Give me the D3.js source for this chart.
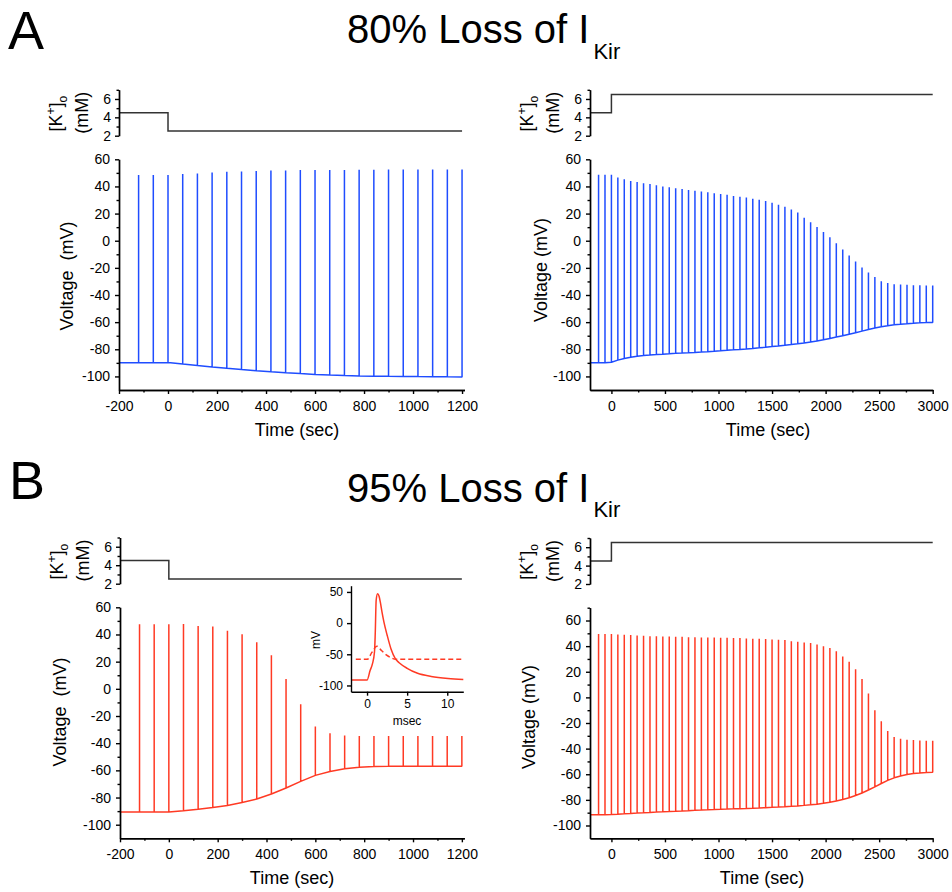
<!DOCTYPE html>
<html>
<head>
<meta charset="utf-8">
<script src="https://cdn.jsdelivr.net/npm/d3@7"></script>
<style>
  body { margin: 0; background: #fff; }
  svg { display: block; }
  text { font-family: "Liberation Sans", Arial, Helvetica, sans-serif; fill: #000; }
</style>
</head>
<body>
<svg id="fig" width="952" height="892"></svg>
<script>
// ---------- data ----------
// spike times (s) for the 1200 s and 3000 s protocols
const leftTimes = [-120, -60, 0, 60, 120, 180, 240, 300, 360, 420, 480, 540, 600,
  660, 720, 780, 840, 900, 960, 1020, 1080, 1140, 1200];
const rightTimes = [-120, -60, 0, 60, 120, 180, 240, 300, 360, 420, 480, 540, 600,
  660, 720, 780, 840, 900, 960, 1020, 1080, 1140, 1200, 1260, 1320, 1380, 1440,
  1500, 1560, 1620, 1680, 1740, 1800, 1860, 1920, 1980, 2040, 2100, 2160, 2220,
  2280, 2340, 2400, 2460, 2520, 2580, 2640, 2700, 2760, 2820, 2880, 2940, 3000];
const traceStart = -200;

// extracellular K+ protocol (mM)
const kTimesLeft = [-200, 0, 1200];
const kLevelsLeft = [4.5, 2.5, 2.5];
const kTimesRight = [-200, 0, 3000];
const kLevelsRight = [4.5, 6.5, 6.5];

// 80% loss of IKir, low K+ : spike peaks and resting potential (mV)
const peaksA1 = [48.4, 48.4, 48.4, 49.1, 49.6, 50.3, 50.8, 51.0, 51.3, 51.8, 51.8,
  52.1, 52.1, 52.2, 52.2, 52.3, 52.3, 52.4, 52.4, 52.4, 52.4, 52.4, 52.4];
const restA1 = [-90.0, -90.0, -89.8, -90.9, -92.0, -93.0, -94.0, -94.9, -95.8, -96.6,
  -97.3, -97.9, -98.5, -98.9, -99.3, -99.6, -99.8, -99.9, -100.0, -100.1, -100.2,
  -100.3, -100.4];

// 80% loss of IKir, high K+
const peaksA2 = [48.7, 48.7, 48.7, 46.5, 45.3, 44.0, 43.3, 42.3, 41.8, 40.8, 39.9,
  39.4, 38.6, 38.1, 37.4, 36.9, 36.2, 35.7, 35.0, 34.5, 33.8, 33.0, 32.4, 31.8,
  31.0, 30.2, 29.2, 28.0, 26.6, 25.0, 23.0, 20.8, 17.0, 13.6, 10.2, 6.5, 2.6, -1.8,
  -6.4, -10.8, -15.3, -19.7, -23.4, -26.8, -29.8, -31.2, -32.0, -32.3, -32.5, -32.8,
  -32.8, -33.0, -33.0];
const restA2 = [-90.0, -90.0, -89.6, -88.0, -86.8, -85.9, -85.2, -84.6, -84.2, -83.9,
  -83.6, -83.3, -83.0, -82.8, -82.5, -82.3, -82.0, -81.8, -81.4, -81.0, -80.7, -80.4,
  -80.1, -79.8, -79.4, -78.9, -78.5, -78.0, -77.6, -77.1, -76.5, -76.0, -75.4, -74.7,
  -73.9, -73.0, -72.0, -71.0, -70.0, -68.9, -67.8, -66.6, -65.4, -64.3, -63.4, -62.6,
  -62.0, -61.5, -61.1, -60.8, -60.5, -60.3, -60.2];

// 95% loss of IKir, low K+
const peaksB1 = [47.5, 47.5, 47.5, 47.7, 46.3, 45.8, 42.8, 40.1, 34.3, 24.7, 7.3,
  -11.3, -27.7, -32.6, -34.3, -34.8, -34.8, -34.8, -34.8, -34.8, -34.8, -34.8, -34.8];
const restB1 = [-90.7, -90.7, -90.7, -89.7, -88.7, -87.3, -85.8, -83.6, -81.1, -77.4,
  -73.0, -68.1, -63.7, -60.8, -58.8, -57.8, -57.1, -56.9, -56.9, -56.9, -56.9, -56.9,
  -56.9];

// 95% loss of IKir, high K+
const peaksB2 = [49.4, 49.4, 49.4, 49.1, 48.9, 48.6, 48.3, 48.1, 47.8, 47.8, 47.6,
  47.6, 47.3, 47.3, 47.0, 47.0, 46.8, 46.8, 46.8, 46.5, 46.5, 46.3, 46.3, 46.0, 45.7,
  45.7, 45.5, 45.2, 45.0, 44.7, 43.9, 43.4, 42.9, 42.4, 41.3, 40.0, 38.5, 36.1, 32.0,
  27.8, 21.9, 14.4, 3.0, -10.0, -18.6, -26.3, -31.0, -32.3, -33.1, -33.3, -33.6,
  -33.9, -33.9];
const restB2 = [-91.7, -91.7, -91.5, -91.2, -90.9, -90.6, -90.3, -90.0, -89.8, -89.5,
  -89.2, -89.0, -88.8, -88.6, -88.4, -88.2, -88.0, -87.8, -87.6, -87.4, -87.2, -87.0,
  -86.9, -86.7, -86.5, -86.3, -86.1, -85.8, -85.6, -85.3, -85.0, -84.7, -84.3, -83.9,
  -83.4, -82.7, -81.9, -80.9, -79.7, -78.3, -76.6, -74.6, -72.3, -69.8, -67.2, -64.8,
  -62.8, -61.3, -60.2, -59.5, -59.0, -58.7, -58.5];

// single action potential (inset), ms vs mV
const apSolidT = [-2, 0, 0.38, 0.67, 0.93, 1.02, 1.14, 1.31, 1.5, 1.65, 1.86, 2.1,
  2.5, 3.0, 3.54, 4.0, 5.0, 6.3, 8.0, 10.1, 12];
const apSolidV = [-91.4, -91.4, -76, -65.5, -46, -18, 37, 47, 43, 34, 18, 2,
  -19, -42, -57.5, -63.5, -72.5, -80.5, -85.5, -88.8, -90.4];
const apDashT = [-1.4, 0.05, 0.6, 1.23, 1.8, 2.4, 3.0, 3.6, 12];
const apDashV = [-58, -58, -47, -37, -44, -51, -55.5, -58, -58];

// tick values
const leftMajor = [-200, 0, 200, 400, 600, 800, 1000, 1200];
const leftMinor = [-100, 100, 300, 500, 700, 900, 1100];
const rightMajor = [0, 500, 1000, 1500, 2000, 2500, 3000];
const rightMinor = [250, 750, 1250, 1750, 2250, 2750];
const vMajor = [-100, -80, -60, -40, -20, 0, 20, 40, 60];
const vMinor = [-90, -70, -50, -30, -10, 10, 30, 50];
const vMinorTall = [-90, -70, -50, -30, -10, 10, 30, 50, 70];
const kMajor = [2, 4, 6];
const kMinor = [3, 5, 7];
const apVTicks = [-100, -50, 0, 50];
const apTTicks = [0, 5, 10];

// ---------- drawing ----------
const svg = d3.select("#fig");
const BLUE = "#1f4dff", RED = "#ff3a24", KCOL = "#333";
const FONT = '"Liberation Sans", Arial, Helvetica, sans-serif';

function styleAxis(g, fs) {
  g.attr("font-family", FONT).attr("font-size", fs);
  g.selectAll(".domain").attr("stroke", "#000").attr("stroke-width", 1.4);
  g.selectAll(".tick line").attr("stroke", "#000").attr("stroke-width", 1.4);
  g.selectAll(".tick text").attr("fill", "#000");
}

function axisPair(gen, at, scale, major, minor, fs, pad, majorLen, minorLen) {
  const tr = gen === d3.axisLeft ? `translate(${at},0)` : `translate(0,${at})`;
  if (minor && minor.length) {
    const gm = svg.append("g").attr("transform", tr)
      .call(gen(scale).tickValues(minor).tickSize(minorLen).tickSizeOuter(0).tickFormat(""));
    styleAxis(gm, fs);
  }
  const g = svg.append("g").attr("transform", tr)
    .call(gen(scale).tickValues(major).tickSize(majorLen).tickSizeOuter(0)
      .tickPadding(pad).tickFormat(d => String(d)));
  styleAxis(g, fs);
  return g;
}

function rotLabel(x, y, fs, build) {
  const t = svg.append("text")
    .attr("transform", `translate(${x},${y}) rotate(-90)`)
    .attr("text-anchor", "middle").attr("font-size", fs);
  build(t);
  return t;
}

function panel(cfg) {
  const x = d3.scaleLinear().domain(cfg.xDomain).range(cfg.xRange);
  const yV = d3.scaleLinear().domain(cfg.vDomain).range(cfg.vRange);
  const yK = d3.scaleLinear().domain([2, 7]).range(cfg.kRange);
  const ax = cfg.xRange[0];

  // K+ protocol
  const kPts = cfg.kTimes.map((t, i) => [t, cfg.kLevels[i]]);
  svg.append("path")
    .attr("d", d3.line().x(d => x(d[0])).y(d => yK(d[1])).curve(d3.curveStepAfter)(kPts))
    .attr("fill", "none").attr("stroke", KCOL).attr("stroke-width", 1.5);
  axisPair(d3.axisLeft, ax, yK, kMajor, kMinor, 14, 4, 4, 2.5);

  // membrane potential: resting trace with a vertical stroke per spike
  const pts = [[traceStart, cfg.rest[0]]];
  cfg.times.forEach((t, i) => {
    pts.push([t, cfg.rest[i]], [t, cfg.peaks[i]], [t, cfg.rest[i]]);
  });
  svg.append("path")
    .attr("d", d3.line().x(d => x(d[0])).y(d => yV(d[1]))(pts))
    .attr("fill", "none").attr("stroke", cfg.color).attr("stroke-width", 1.5)
    .attr("stroke-linejoin", "bevel");

  axisPair(d3.axisLeft, ax, yV, vMajor, cfg.vMinor, 14, 5, 4, 2.5);
  axisPair(d3.axisBottom, cfg.vRange[0], x, cfg.xMajor, cfg.xMinor, 14, 7, 4, 2.5);

  // axis titles
  const kMid = (cfg.kRange[0] + cfg.kRange[1]) / 2;
  rotLabel(ax - 57, kMid + 1, 18, t => {
    t.append("tspan").text("[K");
    t.append("tspan").attr("font-size", 12).attr("dy", -7).text("+");
    t.append("tspan").attr("dy", 7).text("]");
    t.append("tspan").attr("font-size", 12).attr("dy", 5).text("o");
  });
  rotLabel(ax - 31, kMid, 18, t => t.text("(mM)"));
  rotLabel(ax - cfg.vLabelOff, cfg.vLabelY, 18, t => t.text(cfg.vLabel));
  svg.append("text").attr("x", cfg.tLabelX).attr("y", cfg.vRange[0] + 46)
    .attr("text-anchor", "middle").attr("font-size", 18).text("Time (sec)");
}

// titles and panel letters
function title(y, pct) {
  svg.append("text").attr("x", 347).attr("y", y).attr("font-size", 40)
    .text(pct + " Loss of I")
    .append("tspan").attr("font-size", 22).attr("dx", 4).attr("dy", 15.5).text("Kir");
}
svg.append("text").attr("x", 8).attr("y", 49).attr("font-size", 54).text("A");
svg.append("text").attr("x", 9).attr("y", 499).attr("font-size", 54).text("B");
title(43.3, "80%");
title(501.7, "95%");

panel({
  xDomain: [-200, 1210], xRange: [119, 464.5], vDomain: [-110, 60], vRange: [390, 159.3],
  kRange: [135.7, 89.8], kTimes: kTimesLeft, kLevels: kLevelsLeft,
  times: leftTimes, peaks: peaksA1, rest: restA1, color: BLUE,
  xMajor: leftMajor, xMinor: leftMinor, vMinor: vMinor,
  vLabel: "Voltage\u00a0 (mV)", vLabelOff: 46, vLabelY: 276, tLabelX: 297
});
panel({
  xDomain: [-200, 3000], xRange: [590, 932.7], vDomain: [-110, 60], vRange: [390, 159.3],
  kRange: [135.7, 89.8], kTimes: kTimesRight, kLevels: kLevelsRight,
  times: rightTimes, peaks: peaksA2, rest: restA2, color: BLUE,
  xMajor: rightMajor, xMinor: rightMinor, vMinor: vMinor,
  vLabel: "Voltage (mV)", vLabelOff: 43, vLabelY: 270, tLabelX: 768
});
panel({
  xDomain: [-200, 1210], xRange: [120, 464.3], vDomain: [-110, 60], vRange: [838.3, 607.3],
  kRange: [583.7, 537.5], kTimes: kTimesLeft, kLevels: kLevelsLeft,
  times: leftTimes, peaks: peaksB1, rest: restB1, color: RED,
  xMajor: leftMajor, xMinor: leftMinor, vMinor: vMinor,
  vLabel: "Voltage\u00a0 (mV)", vLabelOff: 54, vLabelY: 712, tLabelX: 292
});
panel({
  xDomain: [-200, 3000], xRange: [590, 932.7], vDomain: [-110, 70], vRange: [838.3, 607.7],
  kRange: [584, 538], kTimes: kTimesRight, kLevels: kLevelsRight,
  times: rightTimes, peaks: peaksB2, rest: restB2, color: RED,
  xMajor: rightMajor, xMinor: rightMinor, vMinor: vMinorTall,
  vLabel: "Voltage (mV)", vLabelOff: 55, vLabelY: 717, tLabelX: 762
});

// inset: a single action potential on a millisecond scale
(function inset() {
  const x = d3.scaleLinear().domain([-2, 12]).range([351, 463.3]);
  const y = d3.scaleLinear().domain([-110, 60]).range([691.7, 585.7]);
  const line = d3.line().x(d => x(d[0])).y(d => y(d[1])).curve(d3.curveMonotoneX);
  svg.append("path").attr("d", line(apSolidT.map((t, i) => [t, apSolidV[i]])))
    .attr("fill", "none").attr("stroke", RED).attr("stroke-width", 1.5);
  svg.append("path").attr("d", line(apDashT.map((t, i) => [t, apDashV[i]])))
    .attr("fill", "none").attr("stroke", RED).attr("stroke-width", 1.5)
    .attr("stroke-dasharray", "5,3");
  axisPair(d3.axisLeft, 351, y, apVTicks, null, 12, 4, 4, 0);
  axisPair(d3.axisBottom, 691.7, x, apTTicks, null, 12, 3.5, 4, 0);
  rotLabel(320, 640, 12, t => t.text("mV"));
  svg.append("text").attr("x", 407).attr("y", 724.5).attr("text-anchor", "middle")
    .attr("font-size", 12).text("msec");
})();
</script>
</body>
</html>
